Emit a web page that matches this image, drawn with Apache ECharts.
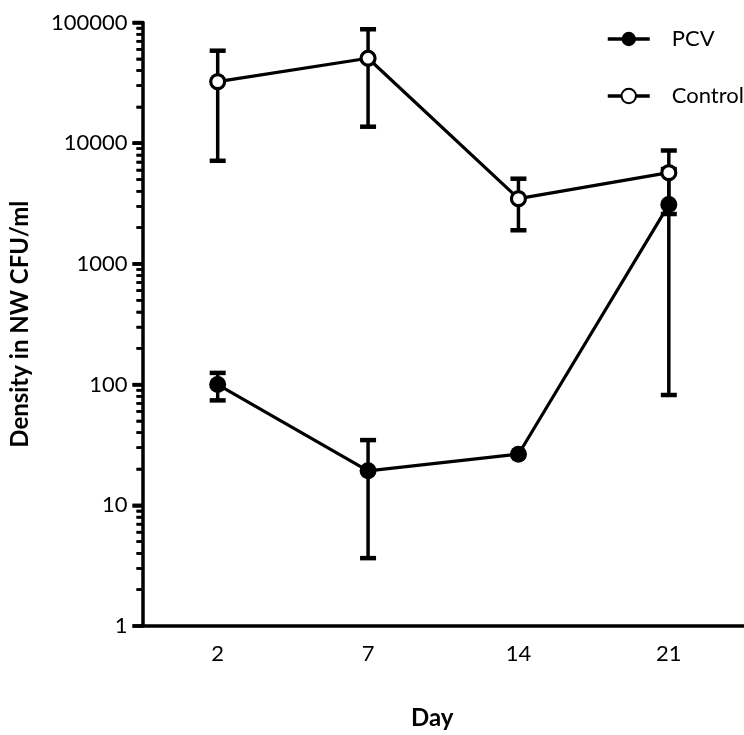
<!DOCTYPE html>
<html>
<head>
<meta charset="utf-8">
<script src="https://cdn.jsdelivr.net/npm/echarts@6/dist/echarts.min.js"></script>
<style>html,body{margin:0;padding:0;background:#fff}#c{width:744px;height:735px}</style>
</head>
<body>
<div id="c"></div>
<script>
const days = ['2', '7', '14', '21'];
const pcvMean = [100, 19.3, 26.5, 3100];
const pcvLow = [74, 3.65, null, 82];
const pcvHigh = [125, 34.7, null, 6100];
const ctrlMean = [32400, 50600, 3470, 5700];
const ctrlLow = [7150, 13700, 1900, 2590];
const ctrlHigh = [58400, 87900, 5080, 8700];
const yTicks = [1, 10, 100, 1000, 10000, 100000];
const minorMultipliers = [2, 3, 4, 5, 6, 7, 8, 9];

const FONT = 'Lato';

const majorTickPts = yTicks.map(v => [0, v]);
const minorTickPts = [];
for (let k = 0; k < yTicks.length - 1; k++) {
  for (const m of minorMultipliers) minorTickPts.push([0, m * yTicks[k]]);
}

function errData(low, high) {
  const out = [];
  for (let i = 0; i < days.length; i++) {
    if (low[i] != null && high[i] != null) out.push([i, low[i], high[i]]);
  }
  return out;
}

function renderErr(params, api) {
  const x = api.value(0);
  const lo = api.coord([x, api.value(1)]);
  const hi = api.coord([x, api.value(2)]);
  const hw = 8;
  const st = { stroke: '#000', lineWidth: 3.5 };
  const cs = { stroke: '#000', lineWidth: 4.5 };
  return {
    type: 'group',
    children: [
      { type: 'line', shape: { x1: lo[0], y1: lo[1], x2: hi[0], y2: hi[1] }, style: st },
      { type: 'line', shape: { x1: lo[0] - hw, y1: lo[1], x2: lo[0] + hw, y2: lo[1] }, style: cs },
      { type: 'line', shape: { x1: hi[0] - hw, y1: hi[1], x2: hi[0] + hw, y2: hi[1] }, style: cs }
    ]
  };
}

const chart = echarts.init(document.getElementById('c'), null, { renderer: 'canvas' });
chart.setOption({
  animation: false,
  backgroundColor: '#fff',
  textStyle: { fontFamily: FONT },
  grid: { left: 142.5, right: -1, top: 22.5, bottom: 108 },
  legend: {
    orient: 'vertical',
    left: 601,
    top: 23,
    itemWidth: 42,
    itemHeight: 18,
    itemGap: 35,
    lineStyle: { width: 3.5 },
    textStyle: { fontFamily: FONT, fontSize: 22, color: '#000', padding: [0, 0, 0, 17] },
    data: ['PCV', 'Control']
  },
  xAxis: [
    {
      type: 'category',
      data: days,
      boundaryGap: true,
      name: 'Day',
      nameLocation: 'middle',
      nameGap: 80,
      nameTextStyle: { fontFamily: FONT, fontSize: 24, fontWeight: 'bold', color: '#000', padding: [0, 22, 0, 0] },
      axisLine: { lineStyle: { color: '#000', width: 3.5 } },
      axisTick: { alignWithLabel: true, length: 10, lineStyle: { color: '#000', width: 3.5 } },
      axisLabel: { fontFamily: FONT, fontSize: 22, color: '#000', margin: 17 },
      splitLine: { show: false }
    },
    {
      type: 'value',
      min: 0,
      max: 1,
      show: false
    }
  ],
  yAxis: {
    type: 'log',
    min: yTicks[0],
    max: yTicks[yTicks.length - 1],
    name: 'Density in NW CFU/ml',
    nameLocation: 'middle',
    nameRotate: 90,
    nameGap: 110,
    nameTextStyle: { fontFamily: FONT, fontSize: 24, fontWeight: 'bold', color: '#000' },
    axisLine: { show: true, lineStyle: { color: '#000', width: 3.5 } },
    axisTick: { show: true, length: 10, lineStyle: { color: '#000', width: 3.5 } },
    minorTick: { show: true, splitNumber: 9, length: 6, lineStyle: { color: '#000', width: 2.5 } },
    axisLabel: { fontFamily: FONT, fontSize: 22, color: '#000', margin: 15, formatter: v => String(v) },
    splitLine: { show: false }
  },
  series: [
    {
      name: 'major ticks',
      type: 'scatter',
      xAxisIndex: 1,
      data: majorTickPts,
      symbol: 'rect',
      symbolSize: [10, 3.5],
      symbolOffset: [-5, 0],
      itemStyle: { color: '#000', opacity: 1 },
      clip: false,
      silent: true,
      z: 2
    },
    {
      name: 'minor ticks',
      type: 'scatter',
      xAxisIndex: 1,
      data: minorTickPts,
      symbol: 'rect',
      symbolSize: [6, 2.5],
      symbolOffset: [-3, 0],
      itemStyle: { color: '#000', opacity: 1 },
      clip: false,
      silent: true,
      z: 2
    },
    {
      name: 'PCV err',
      type: 'custom',
      renderItem: renderErr,
      data: errData(pcvLow, pcvHigh),
      z: 1,
      silent: true
    },
    {
      name: 'Control err',
      type: 'custom',
      renderItem: renderErr,
      data: errData(ctrlLow, ctrlHigh),
      z: 1,
      silent: true
    },
    {
      name: 'Control',
      type: 'line',
      data: ctrlMean,
      symbol: 'circle',
      symbolSize: 14,
      showAllSymbol: true,
      lineStyle: { color: '#000', width: 3.2 },
      itemStyle: { color: '#fff', borderColor: '#000', borderWidth: 3.2 },
      z: 3
    },
    {
      name: 'PCV',
      type: 'line',
      data: pcvMean,
      symbol: 'circle',
      symbolSize: 17,
      showAllSymbol: true,
      lineStyle: { color: '#000', width: 3.2 },
      itemStyle: { color: '#000', borderColor: '#000', borderWidth: 0 },
      z: 4
    }
  ]
});
</script>
</body>
</html>
